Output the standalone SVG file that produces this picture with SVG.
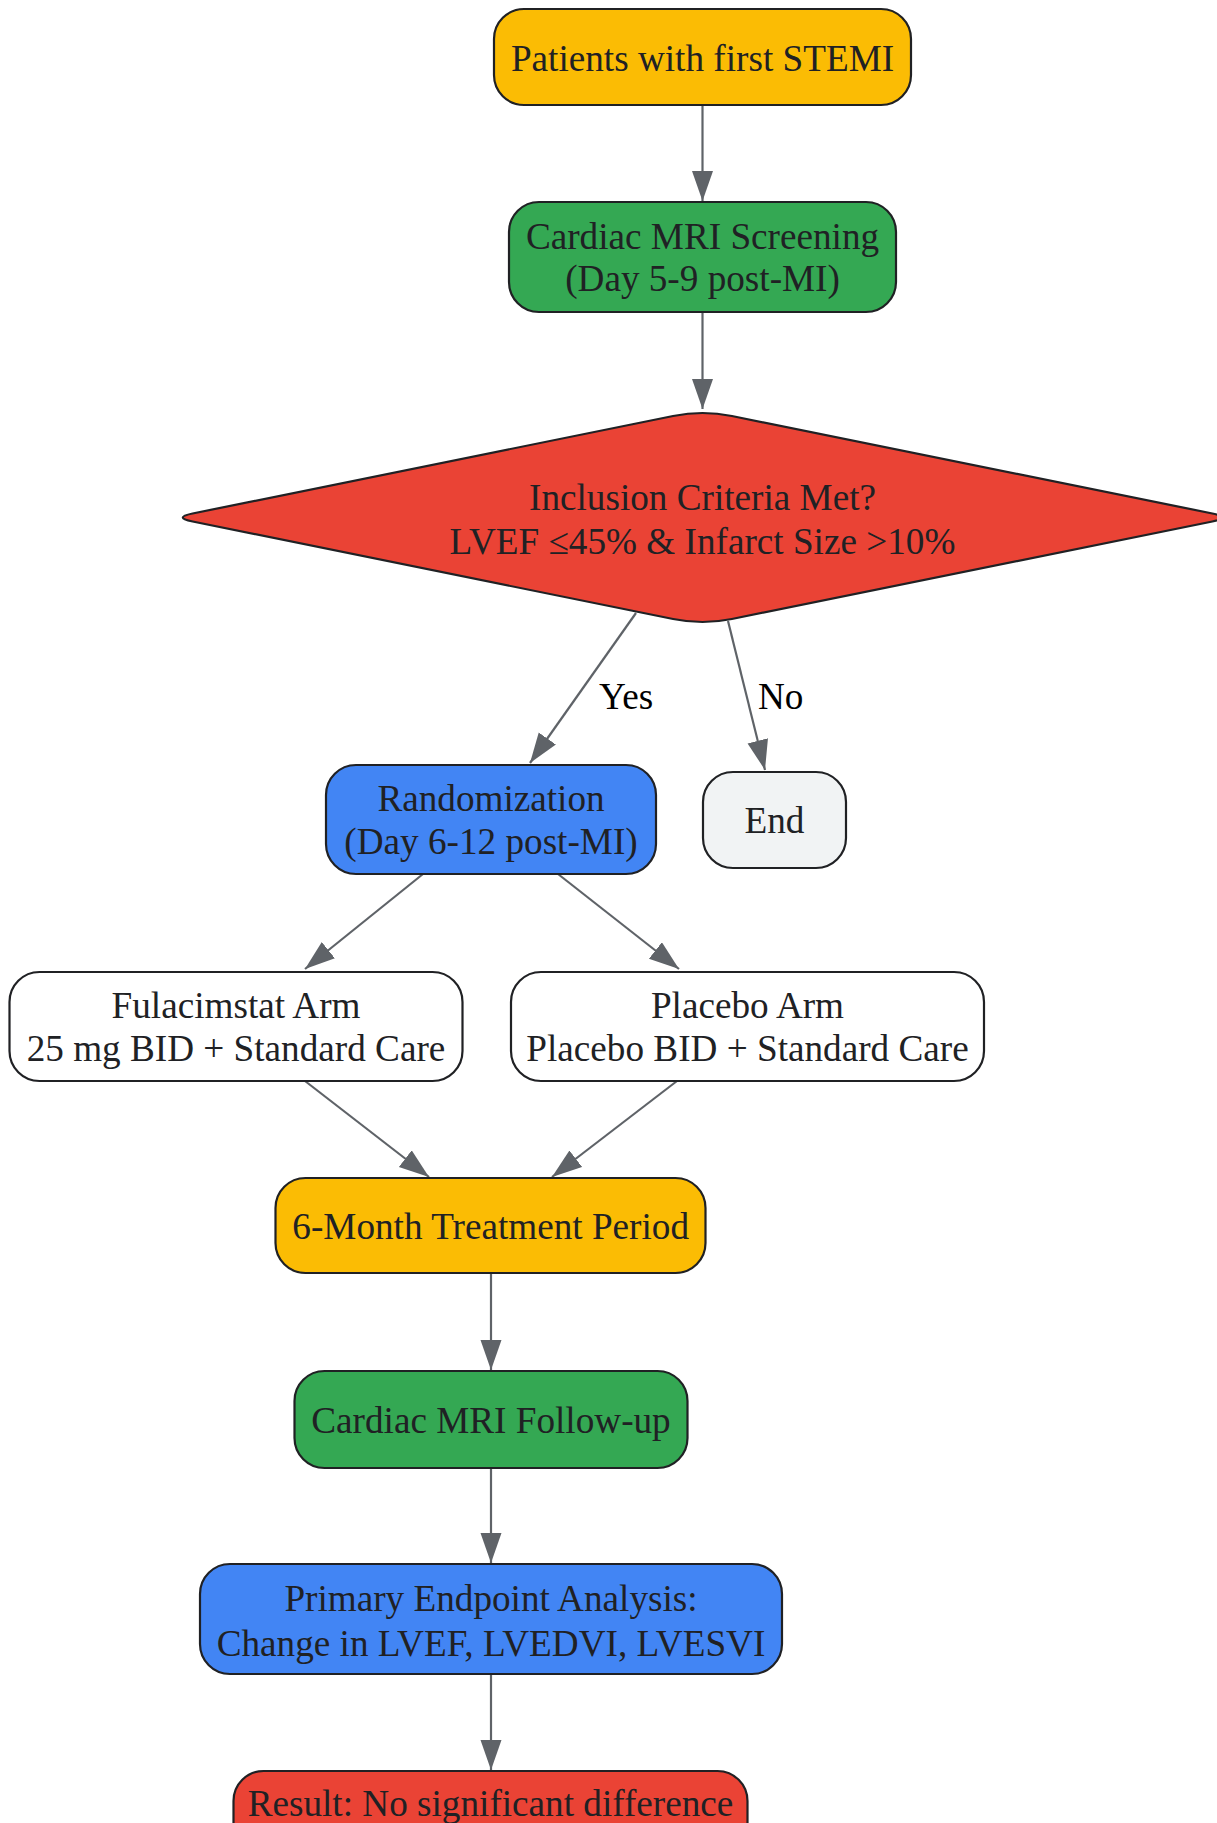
<svg xmlns="http://www.w3.org/2000/svg" width="1217" height="1823" viewBox="0 0 1217 1823">
<style>
.n{stroke:#202124;stroke-width:2.2}
.t{font-family:"Liberation Serif","Times New Roman",serif;font-size:37.2px;fill:#202124;text-anchor:middle}
.l{font-family:"Liberation Serif","Times New Roman",serif;font-size:37.2px;fill:#000;text-anchor:start}
.e{stroke:#5f6368;stroke-width:2.2;fill:none;marker-end:url(#ah)}
.y{fill:#fbbc04}.g{fill:#34a853}.r{fill:#ea4335}.b{fill:#4285f4}.w{fill:#fff}.gr{fill:#f1f3f4}
</style>
<defs>
<marker id="ah" markerUnits="userSpaceOnUse" markerWidth="30" markerHeight="22" refX="30" refY="10.5" orient="auto">
<path d="M0,0 L30,10.5 L0,21 z" fill="#5f6368"/>
</marker>
</defs>
<rect width="1217" height="1823" fill="#fff"/>
<g id="connectors">
<line class="e" x1="702.5" y1="105" x2="702.5" y2="201"/>
<line class="e" x1="702.5" y1="312" x2="702.5" y2="409"/>
<line class="e" x1="636" y1="613" x2="530" y2="763"/>
<line class="e" x1="728" y1="621" x2="765" y2="770"/>
<line class="e" x1="423" y1="874" x2="305" y2="969"/>
<line class="e" x1="558" y1="874" x2="679" y2="969"/>
<line class="e" x1="305" y1="1081" x2="429" y2="1177"/>
<line class="e" x1="677" y1="1081" x2="552" y2="1177"/>
<line class="e" x1="491" y1="1273" x2="491" y2="1370"/>
<line class="e" x1="491" y1="1468" x2="491" y2="1563"/>
<line class="e" x1="491" y1="1675" x2="491" y2="1770"/>
<text class="l" x="599" y="709">Yes</text>
<text class="l" x="758" y="709">No</text>
</g>
<g id="n1"><rect class="n y" x="494" y="9" width="417" height="96" rx="30"/><text class="t" x="702.5" y="71">Patients with first STEMI</text></g>
<g id="n2"><rect class="n g" x="509" y="202" width="387" height="110" rx="30"/><text class="t" x="702.5" y="249">Cardiac MRI Screening</text><text class="t" x="702.5" y="291">(Day 5-9 post-MI)</text></g>
<g id="n3"><path class="n r" d="M673.1,416 Q702.5,410 731.9,416 L1212.4,513.5 Q1232,517.5 1212.4,521.5 L731.9,619 Q702.5,625 673.1,619 L192.6,521.5 Q173,517.5 192.6,513.5 Z"/><text class="t" x="702.5" y="510">Inclusion Criteria Met?</text><text class="t" x="702.5" y="554">LVEF ≤45% &amp; Infarct Size &gt;10%</text></g>
<g id="n4"><rect class="n b" x="326" y="765" width="330" height="109" rx="30"/><text class="t" x="491" y="811">Randomization</text><text class="t" x="491" y="854">(Day 6-12 post-MI)</text></g>
<g id="n5"><rect class="n gr" x="703" y="772" width="143" height="96" rx="30"/><text class="t" x="774.5" y="833">End</text></g>
<g id="n6"><rect class="n w" x="9.5" y="972" width="453" height="109" rx="30"/><text class="t" x="236" y="1018">Fulacimstat Arm</text><text class="t" x="236" y="1061">25 mg BID + Standard Care</text></g>
<g id="n7"><rect class="n w" x="511" y="972" width="473" height="109" rx="30"/><text class="t" x="747.5" y="1018">Placebo Arm</text><text class="t" x="747.5" y="1061">Placebo BID + Standard Care</text></g>
<g id="n8"><rect class="n y" x="275.5" y="1178" width="430" height="95" rx="30"/><text class="t" x="490.7" y="1239">6-Month Treatment Period</text></g>
<g id="n9"><rect class="n g" x="294.5" y="1371" width="393" height="97" rx="30"/><text class="t" x="491" y="1433">Cardiac MRI Follow-up</text></g>
<g id="n10"><rect class="n b" x="200" y="1564" width="582" height="110" rx="30"/><text class="t" x="491" y="1611">Primary Endpoint Analysis:</text><text class="t" x="491" y="1656">Change in LVEF, LVEDVI, LVESVI</text></g>
<g id="n11"><rect class="n r" x="233.5" y="1771" width="514" height="100" rx="30"/><text class="t" x="490.5" y="1816">Result: No significant difference</text></g>
</svg>
